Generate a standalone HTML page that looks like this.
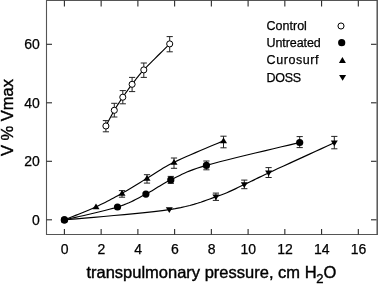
<!DOCTYPE html>
<html><head><meta charset="utf-8"><style>
html,body{margin:0;padding:0;background:#fff;}
svg{display:block;filter:grayscale(1);}
text{font-family:"Liberation Sans",sans-serif;fill:#000;stroke:#000;stroke-width:0.25px;}
.tk{font-size:14px;}
.lg{font-size:12.5px;}
.ax{font-size:16.5px;stroke-width:0.4px;}
</style></head><body>
<svg width="378" height="284" viewBox="0 0 378 284">
<path d="M46.5 0.5H377.2M46.5 234.5H377.2M46.5 0.0V235.0" fill="none" stroke="#555" stroke-width="1.1"/>
<path d="M377.2 0V235.0" fill="none" stroke="#4a4a4a" stroke-width="1.4"/>
<line x1="64.40" y1="234.5" x2="64.40" y2="229.0" stroke="#2a2a2a" stroke-width="1.1"/>
<line x1="64.40" y1="0.5" x2="64.40" y2="6.5" stroke="#2a2a2a" stroke-width="1.1"/>
<text x="64.60" y="254.1" text-anchor="middle" class="tk">0</text>
<line x1="101.14" y1="234.5" x2="101.14" y2="229.0" stroke="#2a2a2a" stroke-width="1.1"/>
<line x1="101.14" y1="0.5" x2="101.14" y2="6.5" stroke="#2a2a2a" stroke-width="1.1"/>
<text x="101.34" y="254.1" text-anchor="middle" class="tk">2</text>
<line x1="137.88" y1="234.5" x2="137.88" y2="229.0" stroke="#2a2a2a" stroke-width="1.1"/>
<line x1="137.88" y1="0.5" x2="137.88" y2="6.5" stroke="#2a2a2a" stroke-width="1.1"/>
<text x="138.08" y="254.1" text-anchor="middle" class="tk">4</text>
<line x1="174.62" y1="234.5" x2="174.62" y2="229.0" stroke="#2a2a2a" stroke-width="1.1"/>
<line x1="174.62" y1="0.5" x2="174.62" y2="6.5" stroke="#2a2a2a" stroke-width="1.1"/>
<text x="174.82" y="254.1" text-anchor="middle" class="tk">6</text>
<line x1="211.36" y1="234.5" x2="211.36" y2="229.0" stroke="#2a2a2a" stroke-width="1.1"/>
<line x1="211.36" y1="0.5" x2="211.36" y2="6.5" stroke="#2a2a2a" stroke-width="1.1"/>
<text x="211.56" y="254.1" text-anchor="middle" class="tk">8</text>
<line x1="248.10" y1="234.5" x2="248.10" y2="229.0" stroke="#2a2a2a" stroke-width="1.1"/>
<line x1="248.10" y1="0.5" x2="248.10" y2="6.5" stroke="#2a2a2a" stroke-width="1.1"/>
<text x="248.30" y="254.1" text-anchor="middle" class="tk">10</text>
<line x1="284.84" y1="234.5" x2="284.84" y2="229.0" stroke="#2a2a2a" stroke-width="1.1"/>
<line x1="284.84" y1="0.5" x2="284.84" y2="6.5" stroke="#2a2a2a" stroke-width="1.1"/>
<text x="285.04" y="254.1" text-anchor="middle" class="tk">12</text>
<line x1="321.58" y1="234.5" x2="321.58" y2="229.0" stroke="#2a2a2a" stroke-width="1.1"/>
<line x1="321.58" y1="0.5" x2="321.58" y2="6.5" stroke="#2a2a2a" stroke-width="1.1"/>
<text x="321.78" y="254.1" text-anchor="middle" class="tk">14</text>
<line x1="358.32" y1="234.5" x2="358.32" y2="229.0" stroke="#2a2a2a" stroke-width="1.1"/>
<line x1="358.32" y1="0.5" x2="358.32" y2="6.5" stroke="#2a2a2a" stroke-width="1.1"/>
<text x="358.52" y="254.1" text-anchor="middle" class="tk">16</text>
<line x1="46.5" y1="219.80" x2="52.0" y2="219.80" stroke="#2a2a2a" stroke-width="1.1"/>
<line x1="376.5" y1="219.80" x2="371" y2="219.80" stroke="#2a2a2a" stroke-width="1.1"/>
<text x="39.8" y="224.80" text-anchor="end" class="tk">0</text>
<line x1="46.5" y1="161.30" x2="52.0" y2="161.30" stroke="#2a2a2a" stroke-width="1.1"/>
<line x1="376.5" y1="161.30" x2="371" y2="161.30" stroke="#2a2a2a" stroke-width="1.1"/>
<text x="39.8" y="166.30" text-anchor="end" class="tk">20</text>
<line x1="46.5" y1="102.80" x2="52.0" y2="102.80" stroke="#2a2a2a" stroke-width="1.1"/>
<line x1="376.5" y1="102.80" x2="371" y2="102.80" stroke="#2a2a2a" stroke-width="1.1"/>
<text x="39.8" y="107.80" text-anchor="end" class="tk">40</text>
<line x1="46.5" y1="44.30" x2="52.0" y2="44.30" stroke="#2a2a2a" stroke-width="1.1"/>
<line x1="376.5" y1="44.30" x2="371" y2="44.30" stroke="#2a2a2a" stroke-width="1.1"/>
<text x="39.8" y="49.30" text-anchor="end" class="tk">60</text>
<polyline points="105.90,126.00 106.31,125.23 106.81,124.26 107.41,123.12 108.07,121.83 108.80,120.44 109.57,118.97 110.37,117.45 111.18,115.92 112.00,114.41 112.80,112.95 113.57,111.57 114.30,110.30 115.00,109.12 115.70,107.96 116.40,106.84 117.10,105.73 117.79,104.65 118.49,103.57 119.20,102.51 119.90,101.46 120.62,100.40 121.34,99.34 122.06,98.28 122.80,97.20 123.54,96.12 124.28,95.06 125.01,94.00 125.75,92.94 126.50,91.89 127.25,90.83 128.01,89.77 128.79,88.70 129.59,87.63 130.40,86.53 131.24,85.43 132.10,84.30 132.95,83.19 133.75,82.12 134.52,81.08 135.30,80.04 136.09,78.99 136.91,77.92 137.80,76.80 138.76,75.61 139.82,74.35 141.00,72.99 142.32,71.51 143.80,69.90 145.54,68.06 147.59,65.94 149.88,63.61 152.34,61.13 154.90,58.57 157.48,56.00 160.03,53.48 162.46,51.07 164.71,48.84 166.72,46.86 168.40,45.19 169.70,43.90" fill="none" stroke="#000" stroke-width="1.15"/>
<polyline points="64.40,219.90 67.04,219.28 70.46,218.50 74.52,217.58 79.08,216.56 84.01,215.44 89.18,214.26 94.44,213.03 99.66,211.78 104.72,210.53 109.46,209.30 113.77,208.12 117.50,207.00 120.74,205.93 123.70,204.87 126.42,203.81 128.93,202.75 131.26,201.69 133.46,200.63 135.57,199.57 137.61,198.50 139.62,197.42 141.66,196.33 143.73,195.22 145.90,194.10 148.06,192.96 150.13,191.81 152.12,190.65 154.06,189.47 155.98,188.29 157.90,187.10 159.84,185.90 161.84,184.70 163.90,183.50 166.07,182.30 168.36,181.10 170.80,179.90 173.21,178.73 175.45,177.60 177.60,176.49 179.74,175.40 181.95,174.30 184.33,173.19 186.93,172.05 189.86,170.87 193.19,169.62 197.00,168.31 201.38,166.90 206.40,165.40 212.45,163.71 219.69,161.80 227.85,159.73 236.68,157.54 245.91,155.29 255.27,153.04 264.52,150.84 273.37,148.75 281.58,146.81 288.88,145.09 295.01,143.63 299.70,142.50" fill="none" stroke="#000" stroke-width="1.15"/>
<polyline points="64.40,219.90 65.94,219.27 67.90,218.48 70.21,217.56 72.80,216.52 75.61,215.39 78.58,214.19 81.63,212.95 84.71,211.68 87.75,210.41 90.69,209.16 93.46,207.95 96.00,206.80 98.37,205.69 100.67,204.59 102.92,203.49 105.12,202.39 107.28,201.28 109.41,200.17 111.52,199.05 113.61,197.93 115.70,196.79 117.79,195.64 119.89,194.48 122.00,193.30 124.11,192.11 126.20,190.90 128.27,189.68 130.33,188.45 132.39,187.21 134.44,185.96 136.49,184.70 138.56,183.43 140.63,182.16 142.73,180.88 144.85,179.59 147.00,178.30 149.11,177.02 151.12,175.75 153.08,174.50 155.02,173.24 156.97,171.98 158.97,170.71 161.05,169.41 163.26,168.08 165.62,166.71 168.17,165.30 170.96,163.83 174.00,162.30 177.49,160.63 181.52,158.79 185.95,156.81 190.67,154.74 195.54,152.64 200.44,150.55 205.24,148.51 209.83,146.58 214.08,144.79 217.85,143.20 221.04,141.86 223.50,140.80" fill="none" stroke="#000" stroke-width="1.15"/>
<polyline points="64.40,219.90 69.65,219.41 76.49,218.81 84.62,218.11 93.76,217.32 103.62,216.47 113.94,215.55 124.41,214.59 134.77,213.60 144.72,212.59 153.98,211.58 162.27,210.58 169.30,209.60 175.28,208.62 180.65,207.60 185.48,206.56 189.83,205.50 193.77,204.41 197.38,203.32 200.73,202.22 203.87,201.11 206.90,200.02 209.86,198.93 212.84,197.85 215.90,196.80 218.92,195.76 221.73,194.73 224.38,193.70 226.87,192.67 229.23,191.65 231.49,190.63 233.68,189.62 235.81,188.61 237.91,187.60 240.01,186.60 242.13,185.60 244.30,184.60 246.34,183.67 248.11,182.83 249.69,182.07 251.17,181.34 252.62,180.62 254.12,179.87 255.75,179.05 257.59,178.14 259.71,177.11 262.20,175.91 265.14,174.52 268.60,172.90 272.83,170.94 277.91,168.60 283.65,165.96 289.87,163.11 296.37,160.14 302.97,157.12 309.49,154.14 315.73,151.29 321.52,148.64 326.67,146.29 330.99,144.31 334.30,142.80" fill="none" stroke="#000" stroke-width="1.15"/>
<path d="M105.90 120.60V131.80M102.80 120.60H109.00M102.80 131.80H109.00" stroke="#222" stroke-width="1" fill="none"/>
<path d="M114.30 103.30V117.00M111.20 103.30H117.40M111.20 117.00H117.40" stroke="#222" stroke-width="1" fill="none"/>
<path d="M122.80 90.60V103.80M119.70 90.60H125.90M119.70 103.80H125.90" stroke="#222" stroke-width="1" fill="none"/>
<path d="M132.10 77.40V91.60M129.00 77.40H135.20M129.00 91.60H135.20" stroke="#222" stroke-width="1" fill="none"/>
<path d="M143.80 63.00V77.40M140.70 63.00H146.90M140.70 77.40H146.90" stroke="#222" stroke-width="1" fill="none"/>
<path d="M169.70 36.60V51.80M166.60 36.60H172.80M166.60 51.80H172.80" stroke="#222" stroke-width="1" fill="none"/>
<circle cx="105.90" cy="126.00" r="3.05" fill="#fff" stroke="#000" stroke-width="1.0"/>
<circle cx="114.30" cy="110.30" r="3.05" fill="#fff" stroke="#000" stroke-width="1.0"/>
<circle cx="122.80" cy="97.20" r="3.05" fill="#fff" stroke="#000" stroke-width="1.0"/>
<circle cx="132.10" cy="84.30" r="3.05" fill="#fff" stroke="#000" stroke-width="1.0"/>
<circle cx="143.80" cy="69.90" r="3.05" fill="#fff" stroke="#000" stroke-width="1.0"/>
<circle cx="169.70" cy="43.90" r="3.05" fill="#fff" stroke="#000" stroke-width="1.0"/>
<circle cx="64.40" cy="219.90" r="3.6" fill="#000"/>
<circle cx="117.50" cy="207.00" r="3.6" fill="#000"/>
<circle cx="145.90" cy="194.10" r="3.6" fill="#000"/>
<path d="M170.80 176.40V183.40M167.70 176.40H173.90M167.70 183.40H173.90" stroke="#222" stroke-width="1" fill="none"/>
<circle cx="170.80" cy="179.90" r="3.6" fill="#000"/>
<path d="M206.40 161.00V169.80M203.30 161.00H209.50M203.30 169.80H209.50" stroke="#222" stroke-width="1" fill="none"/>
<circle cx="206.40" cy="165.40" r="3.6" fill="#000"/>
<path d="M299.70 136.60V147.60M296.60 136.60H302.80M296.60 147.60H302.80" stroke="#222" stroke-width="1" fill="none"/>
<circle cx="299.70" cy="142.50" r="3.6" fill="#000"/>
<path d="M122.00 190.60V197.20M118.90 190.60H125.10M118.90 197.20H125.10" stroke="#222" stroke-width="1" fill="none"/>
<path d="M147.00 174.70V183.10M143.90 174.70H150.10M143.90 183.10H150.10" stroke="#222" stroke-width="1" fill="none"/>
<path d="M174.00 158.00V168.30M170.90 158.00H177.10M170.90 168.30H177.10" stroke="#222" stroke-width="1" fill="none"/>
<path d="M223.50 136.20V147.80M220.40 136.20H226.60M220.40 147.80H226.60" stroke="#222" stroke-width="1" fill="none"/>
<path d="M96.00 203.40L99.50 209.30L92.50 209.30Z" fill="#000"/>
<path d="M122.00 189.90L125.50 195.80L118.50 195.80Z" fill="#000"/>
<path d="M147.00 174.90L150.50 180.80L143.50 180.80Z" fill="#000"/>
<path d="M174.00 158.90L177.50 164.80L170.50 164.80Z" fill="#000"/>
<path d="M223.50 137.40L227.00 143.30L220.00 143.30Z" fill="#000"/>
<path d="M215.90 193.10V200.40M212.80 193.10H219.00M212.80 200.40H219.00" stroke="#222" stroke-width="1" fill="none"/>
<path d="M244.30 180.10V188.70M241.20 180.10H247.40M241.20 188.70H247.40" stroke="#222" stroke-width="1" fill="none"/>
<path d="M268.60 167.60V177.50M265.50 167.60H271.70M265.50 177.50H271.70" stroke="#222" stroke-width="1" fill="none"/>
<path d="M334.30 136.40V148.80M331.20 136.40H337.40M331.20 148.80H337.40" stroke="#222" stroke-width="1" fill="none"/>
<path d="M169.30 213.00L172.80 207.30L165.80 207.30Z" fill="#000"/>
<path d="M215.90 200.20L219.40 194.50L212.40 194.50Z" fill="#000"/>
<path d="M244.30 188.00L247.80 182.30L240.80 182.30Z" fill="#000"/>
<path d="M268.60 176.30L272.10 170.60L265.10 170.60Z" fill="#000"/>
<path d="M334.30 146.20L337.80 140.50L330.80 140.50Z" fill="#000"/>
<circle cx="64.40" cy="219.90" r="3.6" fill="#000"/>
<text x="266.6" y="29.8" class="lg" letter-spacing="0">Control</text>
<text x="266.6" y="47.0" class="lg" letter-spacing="-0.1">Untreated</text>
<text x="266.6" y="64.4" class="lg" letter-spacing="0.55">Curosurf</text>
<text x="266.6" y="81.6" class="lg" letter-spacing="-0.3">DOSS</text>
<circle cx="341.00" cy="26.00" r="3.05" fill="#fff" stroke="#000" stroke-width="1.0"/>
<circle cx="341.70" cy="42.70" r="3.6" fill="#000"/>
<path d="M342.40 57.00L345.90 62.90L338.90 62.90Z" fill="#000"/>
<path d="M342.60 80.70L346.10 75.00L339.10 75.00Z" fill="#000"/>
<text x="86.4" y="277.7" class="ax">transpulmonary pressure, cm H</text>
<text x="316.2" y="283.2" class="ax" style="font-size:13px">2</text>
<text x="323.6" y="277.7" class="ax">O</text>
<text transform="translate(12.7,117.5) rotate(-90)" text-anchor="middle" class="ax">V % Vmax</text>
</svg>
</body></html>
